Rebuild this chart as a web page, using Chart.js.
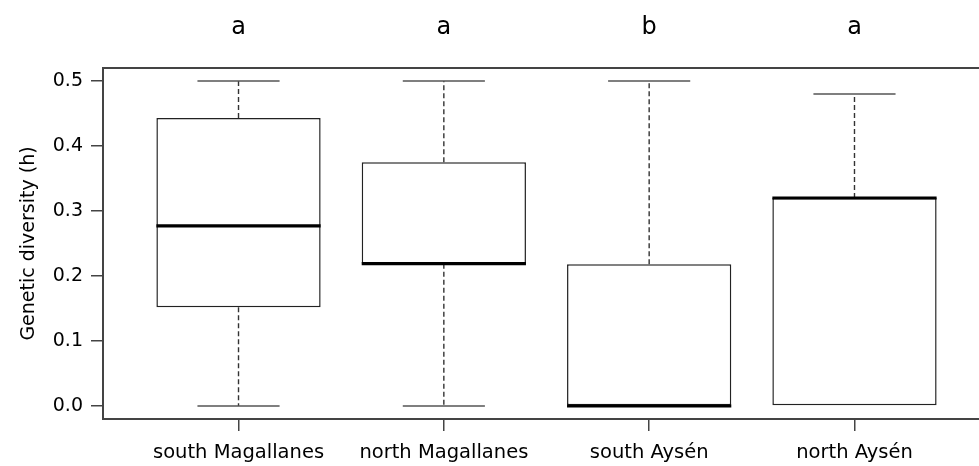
<!DOCTYPE html>
<html>
<head>
<meta charset="utf-8">
<script src="https://cdn.jsdelivr.net/npm/chart.js@4.4.1/dist/chart.umd.min.js"></script>
<style>
  html, body { margin: 0; padding: 0; background: #fff; overflow: hidden; }
  #chart { display: block; }
</style>
</head>
<body>
<canvas id="chart" width="1000" height="466" style="width:1000px;height:466px"></canvas>
<script>
// regions and group letters
var categories = ['south Magallanes', 'north Magallanes', 'south Aysén', 'north Aysén'];
var groupLetters = ['a', 'a', 'b', 'a'];

// box statistics per region (genetic diversity h)
var whiskerLow = [0.0, 0.0, 0.0, 0.0];
var q1 = [0.152, 0.219, 0.0, 0.0];
var median = [0.277, 0.219, 0.0, 0.320];
var q3 = [0.443, 0.375, 0.218, 0.320];
var whiskerHigh = [0.5, 0.5, 0.5, 0.48];

var yTicks = [0.0, 0.1, 0.2, 0.3, 0.4, 0.5];

var FONT = 'DejaVu Sans';
var AXIS_COLOR = '#444';

var boxData = categories.map(function (c, i) {
    return { x: i + 1, y: [q1[i], q3[i]] };
});

// whiskers, staples and medians drawn on top of the floating bars
var boxplotExtras = {
    id: 'boxplotExtras',
    afterDatasetsDraw: function (chart) {
        var ctx = chart.ctx;
        var xs = chart.scales.x, ys = chart.scales.y;
        var halfBox = 0.4, halfStaple = 0.2;
        ctx.save();
        for (var i = 0; i < categories.length; i++) {
            var cx = xs.getPixelForValue(i + 1);
            var staple = xs.getPixelForValue(i + 1 + halfStaple) - cx;
            var half = xs.getPixelForValue(i + 1 + halfBox) - cx;
            var yLo = ys.getPixelForValue(whiskerLow[i]);
            var yQ1 = ys.getPixelForValue(q1[i]);
            var yQ3 = ys.getPixelForValue(q3[i]);
            var yHi = ys.getPixelForValue(whiskerHigh[i]);

            ctx.strokeStyle = '#333';
            ctx.lineWidth = 1.4;
            ctx.setLineDash([5, 3]);
            ctx.beginPath();
            if (whiskerHigh[i] > q3[i]) { ctx.moveTo(cx, yQ3); ctx.lineTo(cx, yHi); }
            if (whiskerLow[i] < q1[i]) { ctx.moveTo(cx, yQ1); ctx.lineTo(cx, yLo); }
            ctx.stroke();

            ctx.setLineDash([]);
            ctx.strokeStyle = '#555';
            ctx.beginPath();
            if (whiskerHigh[i] > q3[i]) { ctx.moveTo(cx - staple, yHi); ctx.lineTo(cx + staple, yHi); }
            if (whiskerLow[i] < q1[i]) { ctx.moveTo(cx - staple, yLo); ctx.lineTo(cx + staple, yLo); }
            ctx.stroke();

            ctx.strokeStyle = '#000';
            ctx.lineWidth = 3.2;
            ctx.beginPath();
            var ym = ys.getPixelForValue(median[i]);
            ctx.moveTo(cx - half, ym);
            ctx.lineTo(cx + half, ym);
            ctx.stroke();
        }
        ctx.restore();
    }
};

var config = {
    type: 'bar',
    data: {
        datasets: [{
            data: boxData,
            backgroundColor: '#fff',
            borderColor: '#222',
            borderWidth: 1.5,
            borderSkipped: false,
            categoryPercentage: 1,
            barPercentage: 0.8,
            xAxisID: 'x',
            yAxisID: 'y'
        }]
    },
    options: {
        responsive: false,
        devicePixelRatio: 1,
        animation: false,
        layout: { padding: { left: 0, right: 10, top: 0, bottom: 0 } },
        plugins: {
            legend: { display: false },
            tooltip: { enabled: false }
        },
        scales: {
            x: {
                type: 'linear',
                position: 'bottom',
                min: 0.34,
                max: 4.66,
                offset: false,
                afterBuildTicks: function (s) {
                    s.ticks = categories.map(function (c, i) { return { value: i + 1 }; });
                },
                afterFit: function (s) { s.height = 47; },
                ticks: {
                    callback: function (v) { return categories[v - 1]; },
                    font: { family: FONT, size: 19.5 },
                    color: '#000',
                    padding: 10,
                    maxRotation: 0,
                    autoSkip: false
                },
                grid: { offset: false, drawOnChartArea: false, tickLength: 12, color: AXIS_COLOR, lineWidth: 1.5 },
                border: { color: AXIS_COLOR, width: 2 }
            },
            xTop: {
                type: 'linear',
                position: 'top',
                min: 0.34,
                max: 4.66,
                offset: false,
                afterBuildTicks: function (s) {
                    s.ticks = groupLetters.map(function (c, i) { return { value: i + 1 }; });
                },
                afterFit: function (s) { s.height = 68; },
                ticks: {
                    callback: function (v) { return groupLetters[v - 1]; },
                    font: { family: FONT, size: 24 },
                    color: '#000',
                    padding: 26,
                    maxRotation: 0,
                    autoSkip: false
                },
                grid: { offset: false, drawOnChartArea: false, drawTicks: false },
                border: { color: AXIS_COLOR, width: 2 }
            },
            y: {
                min: -0.02,
                max: 0.52,
                afterBuildTicks: function (s) {
                    s.ticks = yTicks.map(function (v) { return { value: v }; });
                },
                afterFit: function (s) { s.width = 103; },
                ticks: {
                    callback: function (v) { return v.toFixed(1); },
                    font: { family: FONT, size: 19 },
                    color: '#000',
                    padding: 8
                },
                grid: { drawOnChartArea: false, tickLength: 12, color: AXIS_COLOR, lineWidth: 1.5 },
                border: { color: AXIS_COLOR, width: 2 },
                title: {
                    display: true,
                    text: 'Genetic diversity (h)',
                    font: { family: FONT, size: 19 },
                    color: '#000',
                    padding: { top: 18, bottom: 0 }
                }
            }
        }
    },
    plugins: [boxplotExtras]
};

var ctx = document.getElementById('chart').getContext('2d');
new Chart(ctx, config);
</script>
</body>
</html>
